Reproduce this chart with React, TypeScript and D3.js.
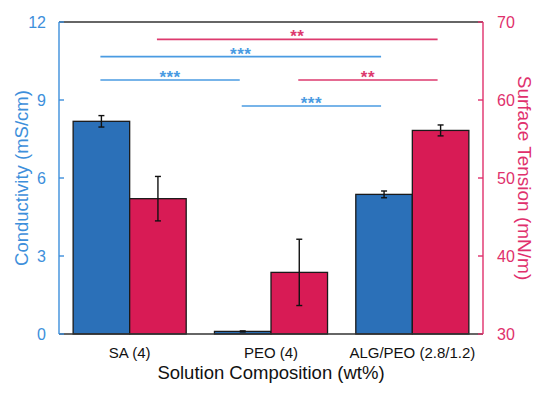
import React from "react";
import * as d3 from "d3";

const categories = ["SA (4)", "PEO (4)", "ALG/PEO (2.8/1.2)"];
const conductivity = [8.18, 0.1, 5.37];
const conductivityErr = [0.22, 0.02, 0.13];
const surfaceTension = [47.35, 37.9, 56.1];
const surfaceTensionErr = [2.85, 4.25, 0.7];
const leftTicks = [0, 3, 6, 9, 12];
const rightTicks = [30, 40, 50, 60, 70];
// significance brackets: series, from-category index, to-category index, height on left axis, label
const sigSeries = ["st", "cond", "cond", "st", "cond"];
const sigFrom = [0, 0, 0, 1, 1];
const sigTo = [2, 2, 1, 2, 2];
const sigLevel = [11.33, 10.67, 9.77, 9.77, 8.77];
const sigLabel = ["**", "***", "***", "**", "***"];

const W = 554, H = 395;
const M = { left: 59, right: 483, top: 22, bottom: 334 };
const BLUE = "#2B70B8";
const RED = "#D81B55";
const AX_BLUE = "#3D8FDB";
const AX_RED = "#E0306C";
const SIG_BLUE = "#4A9BE2";
const SIG_RED = "#DD3A6E";
const FONT = "'Liberation Sans', Arial, sans-serif";

export default function App() {
  const x = d3.scaleBand().domain(categories).range([M.left, M.right]).paddingInner(0.2).paddingOuter(0.1);
  const sub = d3.scaleBand().domain(["cond", "st"]).range([0, x.bandwidth()]);
  const yL = d3.scaleLinear().domain([0, 12]).range([M.bottom, M.top]);
  const yR = d3.scaleLinear().domain([30, 70]).range([M.bottom, M.top]);
  const bw = sub.bandwidth();
  const center = (i: number, s: string) => (x(categories[i]) as number) + (sub(s) as number) + bw / 2;

  const errBar = (cx: number, yTop: number, yBot: number, key: string) => (
    <g key={key} stroke="#111" strokeWidth={1.4}>
      <line x1={cx} x2={cx} y1={yTop} y2={yBot} />
      <line x1={cx - 3} x2={cx + 3} y1={yTop} y2={yTop} />
      <line x1={cx - 3} x2={cx + 3} y1={yBot} y2={yBot} />
    </g>
  );

  return (
    <svg width={W} height={H} style={{ position: "absolute", left: 0, top: 0, background: "#fff" }} fontFamily={FONT}>
      {/* bars */}
      {categories.map((c, i) => {
        const x0 = x(c) as number;
        return (
          <g key={c}>
            <rect x={x0 + (sub("cond") as number)} y={yL(conductivity[i])} width={bw} height={M.bottom - yL(conductivity[i])} fill={BLUE} stroke="#1a1a1a" strokeWidth={1.3} />
            <rect x={x0 + (sub("st") as number)} y={yR(surfaceTension[i])} width={bw} height={M.bottom - yR(surfaceTension[i])} fill={RED} stroke="#1a1a1a" strokeWidth={1.3} />
            {errBar(center(i, "cond"), yL(conductivity[i] + conductivityErr[i]), yL(conductivity[i] - conductivityErr[i]), "ec" + i)}
            {errBar(center(i, "st"), yR(surfaceTension[i] + surfaceTensionErr[i]), yR(surfaceTension[i] - surfaceTensionErr[i]), "es" + i)}
          </g>
        );
      })}
      {/* frame */}
      <line x1={M.left} x2={M.right} y1={M.top} y2={M.top} stroke="#333" strokeWidth={1.6} />
      <line x1={M.left} x2={M.right} y1={M.bottom} y2={M.bottom} stroke="#333" strokeWidth={1.6} />
      <line x1={M.left} x2={M.left} y1={M.top} y2={M.bottom} stroke={AX_BLUE} strokeWidth={1.4} />
      <line x1={M.right} x2={M.right} y1={M.top} y2={M.bottom} stroke={AX_RED} strokeWidth={1.4} />
      {/* left ticks */}
      {leftTicks.map((t) => (
        <g key={"l" + t}>
          <line x1={M.left} x2={M.left + 5} y1={yL(t)} y2={yL(t)} stroke={AX_BLUE} strokeWidth={1.4} />
          <text x={M.left - 13} y={yL(t)} dy="0.36em" textAnchor="end" fontSize={16} fill={AX_BLUE}>{t}</text>
        </g>
      ))}
      {/* right ticks */}
      {rightTicks.map((t) => (
        <g key={"r" + t}>
          <line x1={M.right - 5} x2={M.right} y1={yR(t)} y2={yR(t)} stroke={AX_RED} strokeWidth={1.4} />
          <text x={M.right + 14} y={yR(t)} dy="0.36em" textAnchor="start" fontSize={16} fill={AX_RED}>{t}</text>
        </g>
      ))}
      {/* x labels */}
      {categories.map((c) => (
        <text key={"x" + c} x={(x(c) as number) + x.bandwidth() / 2} y={358} textAnchor="middle" fontSize={15} fill="#111">{c}</text>
      ))}
      <text x={271} y={379} textAnchor="middle" fontSize={18.5} fill="#111">Solution Composition (wt%)</text>
      <text transform={`translate(28,${(M.top + M.bottom) / 2}) rotate(-90)`} textAnchor="middle" fontSize={18.5} fill={AX_BLUE}>Conductivity (mS/cm)</text>
      <text transform={`translate(518,${(M.top + M.bottom) / 2}) rotate(90)`} textAnchor="middle" fontSize={19} fill={AX_RED}>Surface Tension (mN/m)</text>
      {/* significance */}
      {sigLabel.map((lab, k) => {
        const s = sigSeries[k];
        const col = s === "cond" ? SIG_BLUE : SIG_RED;
        const x1 = center(sigFrom[k], s) - 1;
        const x2 = center(sigTo[k], s) - 3;
        const yy = yL(sigLevel[k]);
        return (
          <g key={"s" + k}>
            <line x1={x1} x2={x2} y1={yy} y2={yy} stroke={col} strokeWidth={1.6} />
            <text x={(x1 + x2) / 2} y={yy + 3} textAnchor="middle" fontSize={17} fontWeight="bold" letterSpacing={0.5} fill={col}>{lab}</text>
          </g>
        );
      })}
    </svg>
  );
}
